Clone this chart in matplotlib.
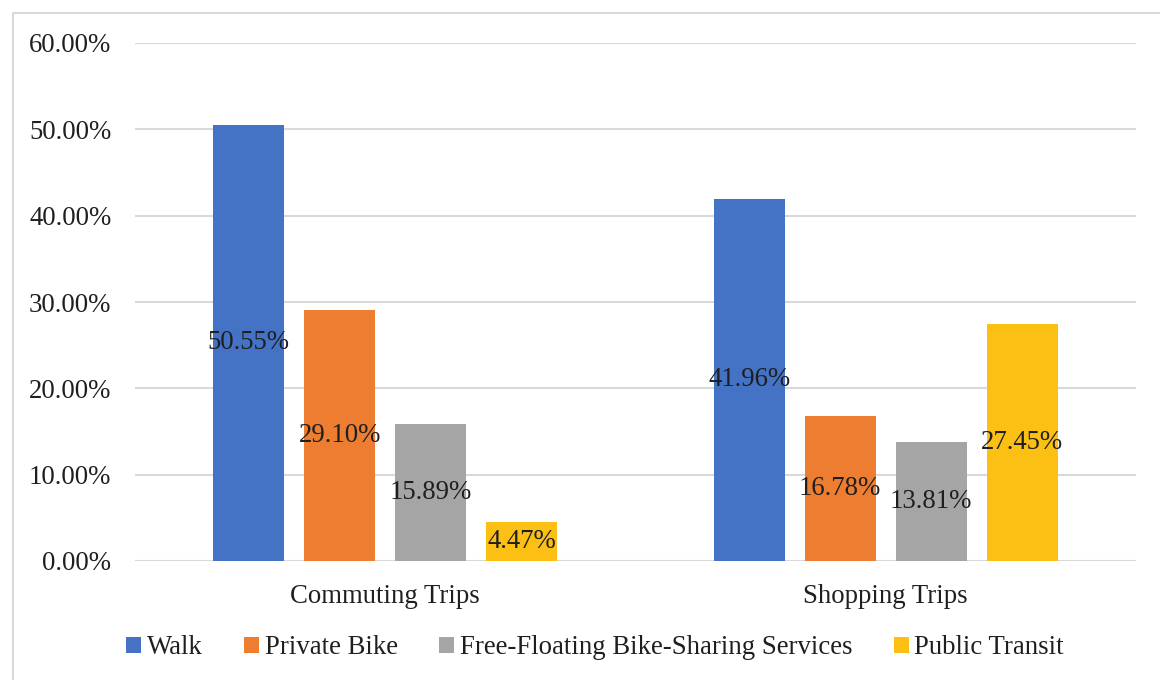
import matplotlib
matplotlib.use("Agg")
import matplotlib.pyplot as plt
from matplotlib.patches import Rectangle, Patch
from matplotlib.ticker import PercentFormatter
import numpy as np

categories = ["Commuting Trips", "Shopping Trips"]
series = ["Walk", "Private Bike", "Free-Floating Bike-Sharing Services", "Public Transit"]
walk = [50.55, 41.96]
private_bike = [29.10, 16.78]
bike_sharing = [15.89, 13.81]
public_transit = [4.47, 27.45]
yticks = [0, 10, 20, 30, 40, 50, 60]

values = [walk, private_bike, bike_sharing, public_transit]
colors = ["#4472C4", "#ED7D31", "#A5A5A5", "#FBC013"]

plt.rcParams["font.family"] = ["Liberation Serif", "DejaVu Serif"]
FS = 19.3
TXT = "#1f1f1f"

W, H = 1160, 680
fig = plt.figure(figsize=(W / 100, H / 100), dpi=100)
ax = fig.add_axes([135 / W, 119 / H, (1136 - 135) / W, (561 - 43) / H])

step = 0.182
width = 0.142
x = np.arange(len(categories))
for j, (vals, col) in enumerate(zip(values, colors)):
    pos = x + (j - 1.5) * step
    bars = ax.bar(pos, vals, width=width, color=col, zorder=3, label=series[j])
    for b, v in zip(bars, vals):
        ax.text(b.get_x() + b.get_width() / 2, v / 2, f"{v:.2f}%",
                ha="center", va="center", fontsize=FS, color=TXT, zorder=4)

ax.set_xlim(-0.5, 1.5)
ax.set_ylim(0, 60)
ax.set_yticks(yticks)
ax.yaxis.set_major_formatter(PercentFormatter(decimals=2))
ax.set_xticks(x)
ax.set_xticklabels(categories)
ax.tick_params(axis="both", length=0, labelsize=FS, colors=TXT)
ax.tick_params(axis="y", pad=17)
ax.tick_params(axis="x", pad=16.5)
ax.grid(axis="y", color="#d9d9d9", linewidth=1.5, zorder=0)
ax.set_axisbelow(True)
for s in ax.spines.values():
    s.set_visible(False)

handles = [Patch(facecolor=c, edgecolor="none") for c in colors]
fig.legend(handles, series, loc="center", bbox_to_anchor=(595 / W, 1 - 648 / H),
           ncol=4, frameon=False, fontsize=FS, handlelength=0.55, handleheight=0.55,
           handletextpad=0.22, columnspacing=1.55, labelcolor=TXT)

border = Rectangle((13 / W, -0.1), 1.2, (1 - 13 / H) + 0.1, transform=fig.transFigure,
                   fill=False, edgecolor="#d9d9d9", linewidth=1.5, clip_on=False)
fig.patches.append(border)

fig.savefig("out.png", dpi=100, facecolor="white")
